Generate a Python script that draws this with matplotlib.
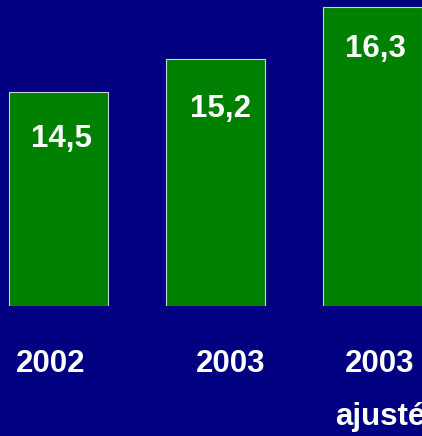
import numpy as np
import matplotlib
matplotlib.use('Agg')
import matplotlib.pyplot as plt
import matplotlib.transforms as mtransforms

categories = ['2002', '2003', '2003\najusté']
values = [14.5, 15.2, 16.3]
value_labels = ['14,5', '15,2', '16,3']

bg = '#000080'
green = '#008000'

plt.rcParams['font.family'] = ['Liberation Sans', 'DejaVu Sans']

fig = plt.figure(figsize=(4.22, 4.36), dpi=100, facecolor=bg)
ax = fig.add_axes([0, 130/436, 1, 306/436])
ax.set_facecolor(bg)

x = np.arange(len(values))
ax.bar(x, values, width=0.63, bottom=0, color=green, edgecolor='#d0d0d0', linewidth=0.8)
ax.set_xlim(-0.3726, 2.315)
ax.set_ylim(10, 10 + 306/47.5)
ax.set_axis_off()

# value labels inside the bars
shifts = [0.02, 0.03, 0.02]
drops = [0.98, 1.06, 0.88]
for i, (v, lab) in enumerate(zip(values, value_labels)):
    ax.text(x[i] + shifts[i], v - drops[i], lab, color='white', fontsize=22.5,
            fontweight='bold', ha='center', va='center')

# category labels below the axes
trans = mtransforms.blended_transform_factory(ax.transData, fig.transFigure)
lab_dx = [-0.048, 0.099, 0.048]
for i, c in enumerate(categories):
    ax.text(x[i] + lab_dx[i], 1 - 349/436, c, transform=trans, color='white',
            fontsize=22.5, fontweight='bold', ha='center', va='top',
            linespacing=2.0, clip_on=False)

fig.savefig('out.png', dpi=100, facecolor=bg)
